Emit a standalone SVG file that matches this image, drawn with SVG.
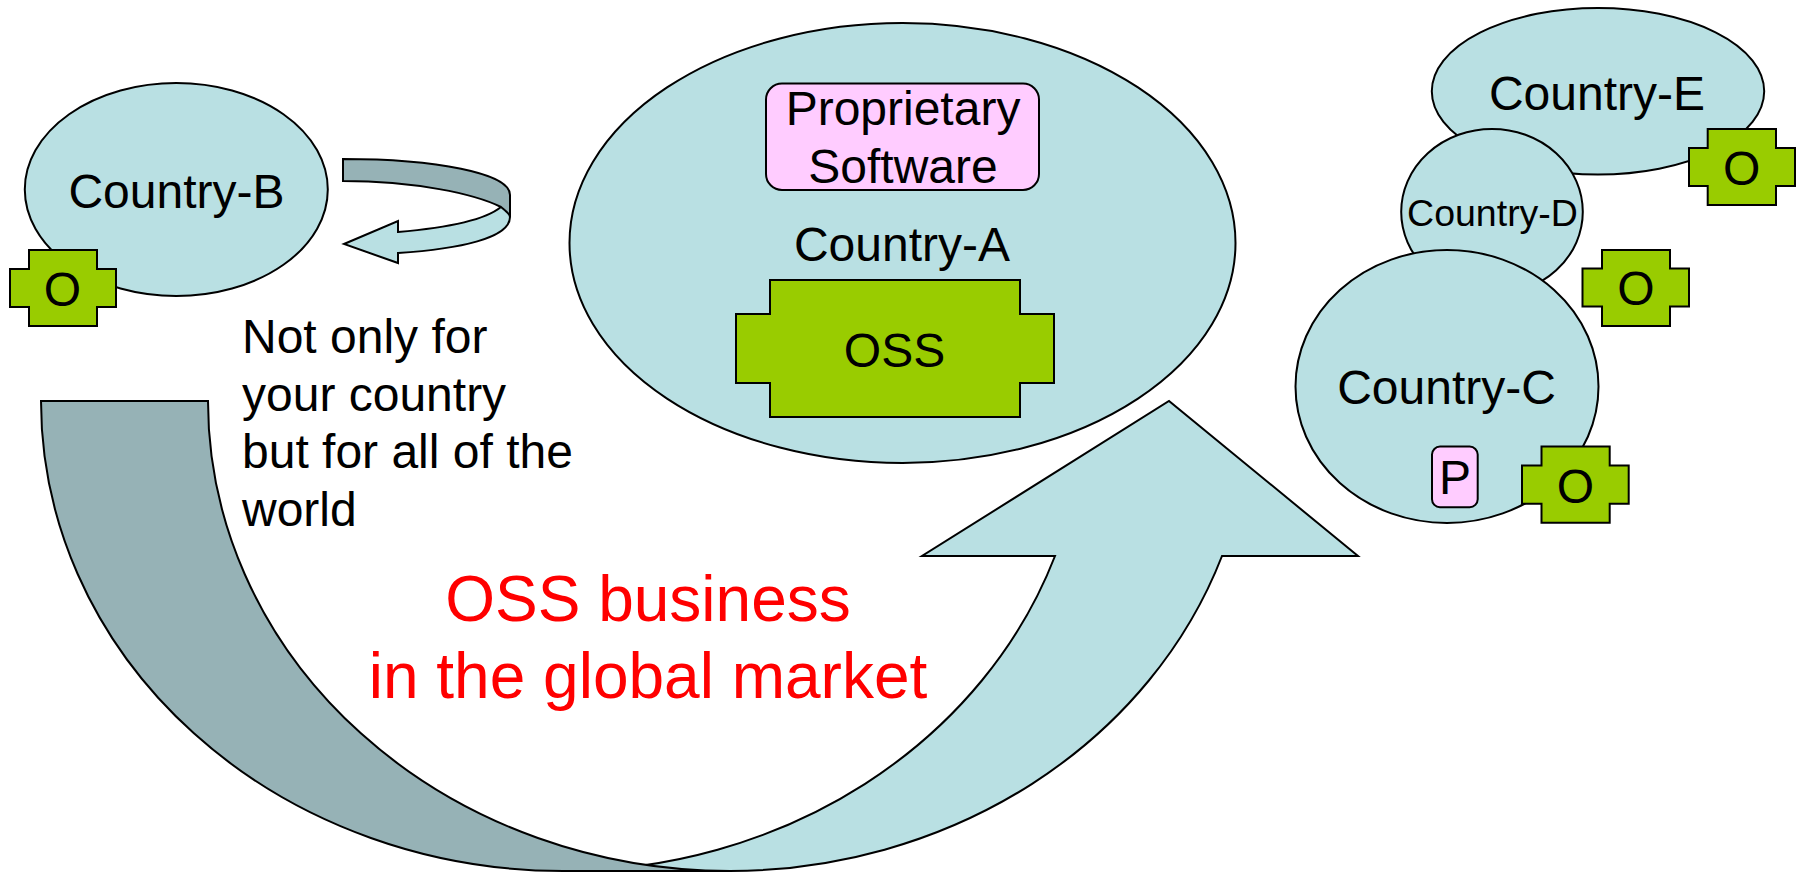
<svg xmlns="http://www.w3.org/2000/svg" width="1802" height="873" viewBox="0 0 1802 873">
<style>
text{font-family:"Liberation Sans",Arial,sans-serif;font-size:48px;fill:#000;text-anchor:middle}
.s{stroke:#000;stroke-width:2;stroke-linejoin:miter}
.l{fill:#B9E0E3}.d{fill:#96B2B6}.g{fill:#99CC00}.p{fill:#FFCCFF}
.st{text-anchor:start}.r{font-size:64px;fill:#FF0000}
</style>
<rect width="1802" height="873" fill="#fff"/>
<g id="connectors">
<path id="arrow-global-light" class="s l" d="M563,871A522,470 0 0 0 1055,556L922,556L1169,401L1358,556L1222,556A522,470 0 0 1 730,871Z"/>
<path id="arrow-global-dark" class="s d" d="M41,401L208,401A522,470 0 0 0 730,871L563,871A522,470 0 0 1 41,401Z"/>
<path id="arrow-loop-light" class="s l" d="M501,207C485,220 445,228 398,232L398,221L344,244L398,263L398,253C460,249 510,238 510,217L510,195C510,205 506,202 501,207Z"/>
<path id="arrow-loop-dark" class="s d" d="M343,159C435,159 510,173 510,195L510,217C510,214 506,211 501,207C475,194 415,181 343,181Z"/>
</g>
<g id="country-b"><ellipse class="s l" cx="176.300" cy="189.500" rx="151.500" ry="106.500"/><text x="176.500" y="207.500">Country-B</text></g>
<g id="oss-b"><path class="s g" d="M29,250H97V269H116V307H97V326H29V307H10V269H29Z"/><text x="62.500" y="306">O</text></g>
<g id="country-a"><ellipse class="s l" cx="902.500" cy="243" rx="333" ry="220"/><text x="902" y="261">Country-A</text></g>
<g id="proprietary"><rect class="s p" x="766" y="83.500" width="273" height="106.500" rx="16"/><text x="903" y="125">Proprietary</text><text x="903" y="183">Software</text></g>
<g id="oss-a"><path class="s g" d="M770,280H1020V314H1054V383H1020V417H770V383H736V314H770Z"/><text x="894.500" y="367">OSS</text></g>
<g id="country-e"><ellipse class="s l" cx="1598" cy="91.300" rx="166.200" ry="83.300"/><text x="1597" y="109.500">Country-E</text></g>
<g id="oss-e"><path class="s g" d="M1707.700,129H1776V148H1795V186H1776V205H1707.700V186H1689V148H1707.700Z"/><text x="1741.700" y="185">O</text></g>
<g id="country-d"><ellipse class="s l" cx="1492" cy="211.800" rx="90.800" ry="82.800"/><text x="1492.500" y="225.500" style="font-size:37.500px">Country-D</text></g>
<g id="oss-d"><path class="s g" d="M1602,250H1670V268.600H1689V306.500H1670V326H1602V306.500H1582.500V268.600H1602Z"/><text x="1635.800" y="305.400">O</text></g>
<g id="country-c"><ellipse class="s l" cx="1447" cy="386.500" rx="151.500" ry="136.500"/><text x="1446.500" y="403.600">Country-C</text></g>
<g id="prop-c"><rect class="s p" x="1432" y="446.600" width="45.700" height="60.600" rx="8"/><text x="1455" y="494">P</text></g>
<g id="oss-c"><path class="s g" d="M1541.500,446.600H1609.700V465.600H1628.700V503.800H1609.700V522.700H1541.500V503.800H1522V465.600H1541.500Z"/><text x="1575.400" y="502.800">O</text></g>
<g id="caption">
<text class="st" x="242" y="353">Not only for</text>
<text class="st" x="242" y="411">your country</text>
<text class="st" x="242" y="468">but for all of the</text>
<text class="st" x="242" y="526">world</text>
</g>
<g id="title">
<text class="r" x="648" y="621">OSS business</text>
<text class="r" x="648" y="698">in the global market</text>
</g>
</svg>
